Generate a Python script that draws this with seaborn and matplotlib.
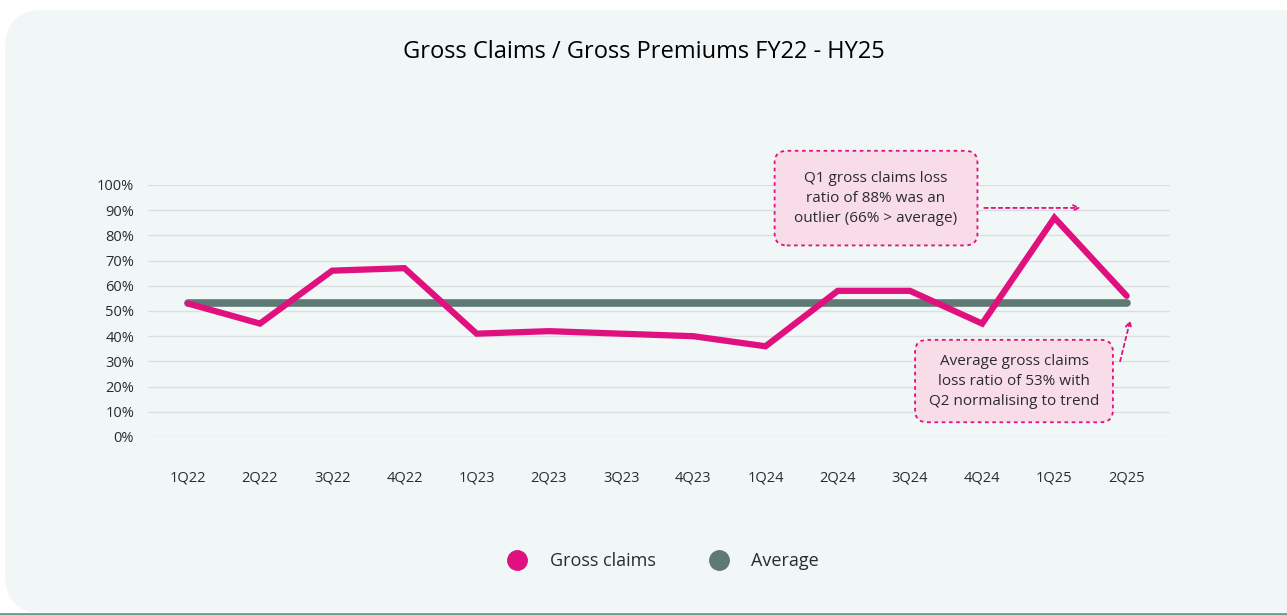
import matplotlib
matplotlib.use("Agg")
import matplotlib.pyplot as plt
from matplotlib.patches import FancyBboxPatch
from matplotlib.lines import Line2D
import seaborn as sns
import pandas as pd

quarters = ["1Q22", "2Q22", "3Q22", "4Q22", "1Q23", "2Q23", "3Q23",
            "4Q23", "1Q24", "2Q24", "3Q24", "4Q24", "1Q25", "2Q25"]
gross_claims = [0.53, 0.45, 0.66, 0.67, 0.41, 0.42, 0.41,
                0.40, 0.36, 0.58, 0.58, 0.45, 0.87, 0.56]
avg_ratio = 0.53
y_ticks = [0, 0.1, 0.2, 0.3, 0.4, 0.5, 0.6, 0.7, 0.8, 0.9, 1.0]

pink = "#e0117f"
grey = "#5f7a74"
txt = "#2b2b2b"

sns.set_style("white")
plt.rcParams["font.family"] = ["Open Sans", "DejaVu Sans"]

df = pd.DataFrame({"quarter": quarters, "claims": gross_claims,
                   "average": [avg_ratio] * len(quarters)})

fig = plt.figure(figsize=(12.87, 6.15), dpi=100, facecolor="white")
# rounded panel background
panel = FancyBboxPatch((5 / 1287, 2 / 615), 1.02, 603 / 615,
                       boxstyle="round,pad=0,rounding_size=0.03",
                       transform=fig.transFigure, facecolor="#f1f7f7",
                       edgecolor="none", zorder=-10, mutation_aspect=1287 / 615)
fig.patches.append(panel)
fig.add_artist(Line2D([0, 1], [1.5 / 615, 1.5 / 615], color="#6a9a94",
                      lw=2, transform=fig.transFigure, zorder=-5))

ax = fig.add_axes([148 / 1287, 1 - 437 / 615, (1170 - 148) / 1287, (437 - 185) / 615])
ax.set_facecolor("none")
ax.set_zorder(2)

sns.lineplot(data=df, x="quarter", y="average", ax=ax, color=grey, lw=5.5,
             solid_capstyle="round", zorder=2, sort=False)
sns.lineplot(data=df, x="quarter", y="claims", ax=ax, color=pink, lw=4.5,
             solid_capstyle="round", solid_joinstyle="miter", zorder=3, sort=False)

ax.set_xlim(-0.55, 13.6)
ax.set_ylim(0, 1.0)
ax.set_yticks(y_ticks)
ax.set_yticklabels([f"{int(round(v * 100))}%" for v in y_ticks])
ax.yaxis.grid(True, color="#dcdfe0", lw=1)
ax.set_axisbelow(True)
for s in ax.spines.values():
    s.set_visible(False)
ax.tick_params(axis="both", length=0, labelsize=10.5, colors=txt)
ax.tick_params(axis="x", pad=24)
ax.tick_params(axis="y", pad=10)
ax.set_xlabel("")
ax.set_ylabel("")

fig.text(0.5, 1 - 52 / 615, "Gross Claims / Gross Premiums FY22 - HY25",
         ha="center", va="center", fontsize=17, color="#000000")

box_style = dict(boxstyle="round,pad=1.3,rounding_size=0.8", facecolor="#f8dde9",
                 edgecolor=pink, linestyle=(0, (2, 2)), lw=1.3)
ax.text(9.53, 0.948, "Q1 gross claims loss\nratio of 88% was an\noutlier (66% > average)",
        ha="center", va="center", fontsize=11, color=txt, linespacing=1.45,
        bbox=box_style, zorder=5, clip_on=False)
ax.annotate("", xy=(12.4, 0.909), xytext=(10.99, 0.909),
            arrowprops=dict(arrowstyle="->", color=pink, lw=1.3, linestyle=(0, (2, 2))),
            annotation_clip=False)

box_style2 = dict(box_style, boxstyle="round,pad=0.9,rounding_size=0.8")
ax.text(11.44, 0.222, "Average gross claims\nloss ratio of 53% with\nQ2 normalising to trend",
        ha="center", va="center", fontsize=11, color=txt, linespacing=1.45,
        bbox=box_style2, zorder=5, clip_on=False)
ax.annotate("", xy=(13.06, 0.475), xytext=(12.9, 0.29),
            arrowprops=dict(arrowstyle="->", color=pink, lw=1.3, linestyle=(0, (2, 2))),
            annotation_clip=False)

handles = [Line2D([], [], marker="o", ls="none", markersize=14, color=pink, label="Gross claims"),
           Line2D([], [], marker="o", ls="none", markersize=14, color=grey, label="Average")]
fig.legend(handles=handles, loc="center", bbox_to_anchor=(0.512, 1 - 561 / 615),
           ncol=2, frameon=False, fontsize=13, columnspacing=2.5, handletextpad=0.8,
           labelcolor=txt)

fig.savefig("out.png", dpi=100, facecolor="white")
